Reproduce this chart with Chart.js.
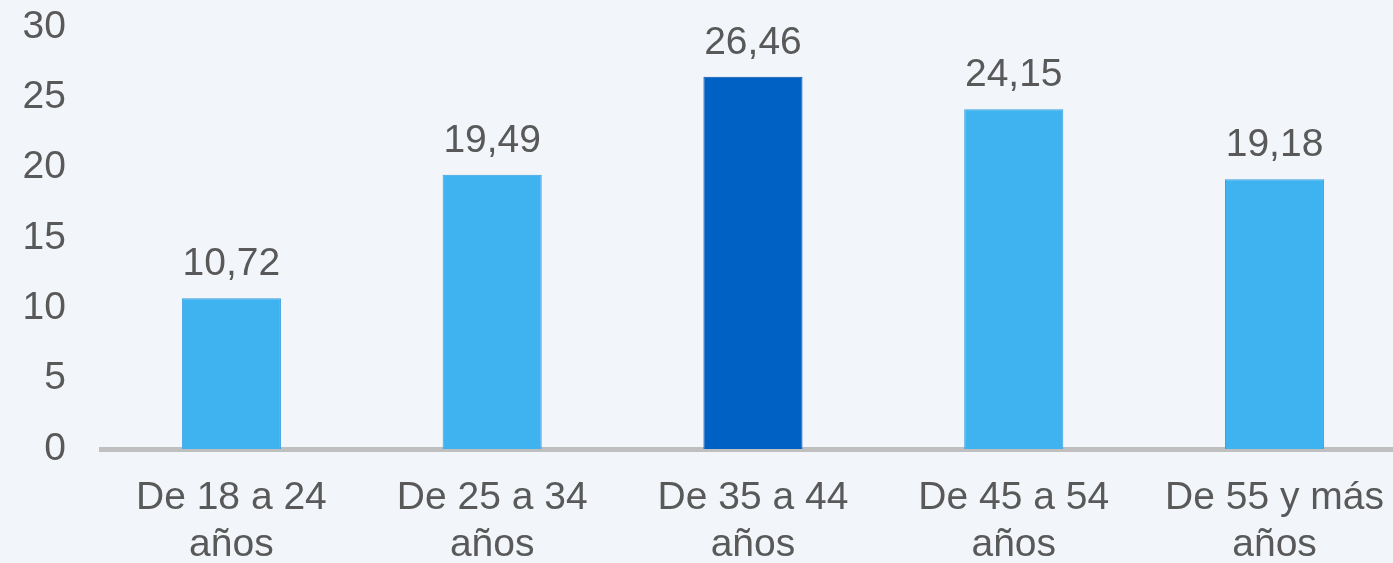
<!DOCTYPE html>
<html>
<head>
<meta charset="utf-8">
<script src="https://cdn.jsdelivr.net/npm/chart.js@4/dist/chart.umd.min.js"></script>
<style>
  html, body { margin: 0; padding: 0; background: #f2f5fa; overflow: hidden; }
  /* the plot runs a little past the right edge of the picture */
  #wrap { width: 1410px; height: 563px; }
</style>
</head>
<body>
<div id="wrap"><canvas id="barChart"></canvas></div>
<script>
// age groups (two-line labels) and shares
var categories = [
    ["De 18 a 24", "años"],
    ["De 25 a 34", "años"],
    ["De 35 a 44", "años"],
    ["De 45 a 54", "años"],
    ["De 55 y más", "años"]
];
var values = [10.72, 19.49, 26.46, 24.15, 19.18];
var yTicks = [0, 5, 10, 15, 20, 25, 30];

var lightBlue = "#3eb3f0";
var darkBlue = "#0061c5";
var textGrey = "#595959";
var fontFamily = "'Liberation Sans', Arial, sans-serif";

// writes the value over each bar, with a comma as decimal mark
var valueLabels = {
    id: "valueLabels",
    afterDatasetsDraw: function (chart) {
        var ctx = chart.ctx;
        var meta = chart.getDatasetMeta(0);
        ctx.save();
        ctx.font = "39px " + fontFamily;
        ctx.fillStyle = textGrey;
        ctx.textAlign = "center";
        ctx.textBaseline = "alphabetic";
        meta.data.forEach(function (bar, i) {
            var txt = values[i].toFixed(2).replace(".", ",");
            ctx.fillText(txt, bar.x, bar.y - 23);
        });
        ctx.restore();
    }
};

var ctx = document.getElementById("barChart").getContext("2d");
new Chart(ctx, {
    type: "bar",
    data: {
        labels: categories,
        datasets: [{
            data: values,
            backgroundColor: values.map(function (v, i) { return i === 2 ? darkBlue : lightBlue; }),
            borderColor: values.map(function (v, i) { return i === 2 ? "#0a55a8" : "#3a9fdf"; }),
            borderWidth: 1,
            barPercentage: 0.38,
            categoryPercentage: 1
        }]
    },
    options: {
        responsive: true,
        maintainAspectRatio: false,
        animation: false,
        layout: {
            padding: { left: 22, top: 27, right: 0, bottom: 0 }
        },
        scales: {
            x: {
                grid: { display: false, drawTicks: false },
                border: { display: true, color: "#bfbfbf", width: 5 },
                ticks: {
                    color: textGrey,
                    font: { family: fontFamily, size: 39, lineHeight: 1.2 },
                    padding: 26,
                    maxRotation: 0,
                    autoSkip: false
                },
                afterFit: function (axis) { axis.height = 114; }
            },
            y: {
                min: 0,
                max: 30,
                afterBuildTicks: function (axis) {
                    axis.ticks = yTicks.map(function (v) { return { value: v }; });
                },
                grid: { display: false, drawTicks: false },
                border: { display: false },
                ticks: {
                    color: textGrey,
                    font: { family: fontFamily, size: 39 },
                    padding: 35
                },
                afterFit: function (axis) {
                    axis.width = 79;
                    axis.paddingTop = 0;
                    axis.paddingBottom = 0;
                }
            }
        },
        plugins: {
            legend: { display: false },
            tooltip: { enabled: false }
        }
    },
    plugins: [valueLabels]
});
</script>
</body>
</html>
